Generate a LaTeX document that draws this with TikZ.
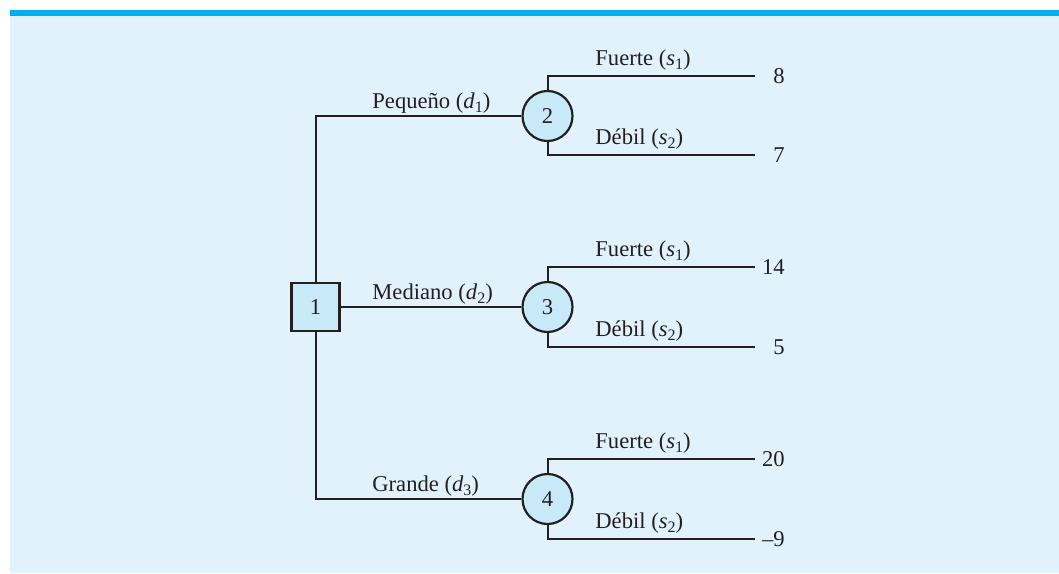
\documentclass[tikz,border=0pt]{standalone}
\usepackage{fontspec}
\setmainfont{Liberation Serif}
\usepackage{xcolor}
\usetikzlibrary{positioning}

\definecolor{fondo}{HTML}{E1F2FC}
\definecolor{barra}{HTML}{00AEEF}
\definecolor{nodo}{HTML}{C8E9F8}
\definecolor{linea}{HTML}{231F20}

\newcommand{\idx}[2]{\textit{#1}\raisebox{-0.45ex}{\footnotesize #2}}

\begin{document}
\begin{tikzpicture}[x=0.5pt,y=-0.5pt,
    font=\fontsize{11.3}{13}\selectfont, text=linea,
    rama/.style={draw=linea,line width=1pt},
    decision/.style={draw=linea,fill=nodo,line width=1.1pt,minimum size=24pt,inner sep=0pt},
    azar/.style={circle,draw=linea,fill=nodo,line width=1.1pt,minimum size=25pt,inner sep=0pt},
    etiqueta/.style={anchor=base west,inner sep=0pt},
    valor/.style={anchor=east,inner sep=0pt}]
        \def\xd{315.5}
        \def\xc{547.5}
        \def\xe{755}
        \def\xv{785}
        \def\xl{372}
        \def\xs{595}

        %------------------
        % fondo
        %------------------
        \useasboundingbox (0,0) rectangle (1059,573);
        \fill[fondo] (10,16) rectangle (1059,573);
        \fill[barra] (10,10) rectangle (1059,15.5);

        %------------------
        % nodos
        %------------------
        \node[decision] (n1) at (\xd,307) {1};
        \node[azar] (n2) at (\xc,116) {2};
        \node[azar] (n3) at (\xc,307) {3};
        \node[azar] (n4) at (\xc,499) {4};

        % decisiones
        \draw[rama] (n1.north) |- (n2);
        \draw[rama] (n1) -- (n3);
        \draw[rama] (n1.south) |- (n4);

        \node[etiqueta] (d1) at (\xl,108) {Pequeño (\idx{d}{1})};
        \node[etiqueta] (d2) at (\xl,299) {Mediano (\idx{d}{2})};
        \node[etiqueta] (d3) at (\xl,491) {Grande (\idx{d}{3})};

        %------------------
        % estados
        %------------------
        \coordinate (f2) at (\xe,76);
        \coordinate (w2) at (\xe,155);
        \coordinate (f3) at (\xe,267);
        \coordinate (w3) at (\xe,347);
        \coordinate (f4) at (\xe,459);
        \coordinate (w4) at (\xe,539);

        \draw[rama] (n2.north) |- (f2);
        \draw[rama] (n2.south) |- (w2);
        \draw[rama] (n3.north) |- (f3);
        \draw[rama] (n3.south) |- (w3);
        \draw[rama] (n4.north) |- (f4);
        \draw[rama] (n4.south) |- (w4);

        \node[etiqueta] (s21) at (\xs,65) {Fuerte (\idx{s}{1})};
        \node[etiqueta] (s22) at (\xs,144) {Débil (\idx{s}{2})};
        \node[etiqueta] (s31) at (\xs,256) {Fuerte (\idx{s}{1})};
        \node[etiqueta] (s32) at (\xs,336) {Débil (\idx{s}{2})};
        \node[etiqueta] (s41) at (\xs,448) {Fuerte (\idx{s}{1})};
        \node[etiqueta] (s42) at (\xs,528) {Débil (\idx{s}{2})};

        % ganancias
        \node[valor] (v21) at (\xv,76) {8};
        \node[valor] (v22) at (\xv,155) {7};
        \node[valor] (v31) at (\xv,267) {14};
        \node[valor] (v32) at (\xv,347) {5};
        \node[valor] (v41) at (\xv,459) {20};
        \node[valor] (v42) at (\xv,539) {--9};
      \end{tikzpicture}
\end{document}
